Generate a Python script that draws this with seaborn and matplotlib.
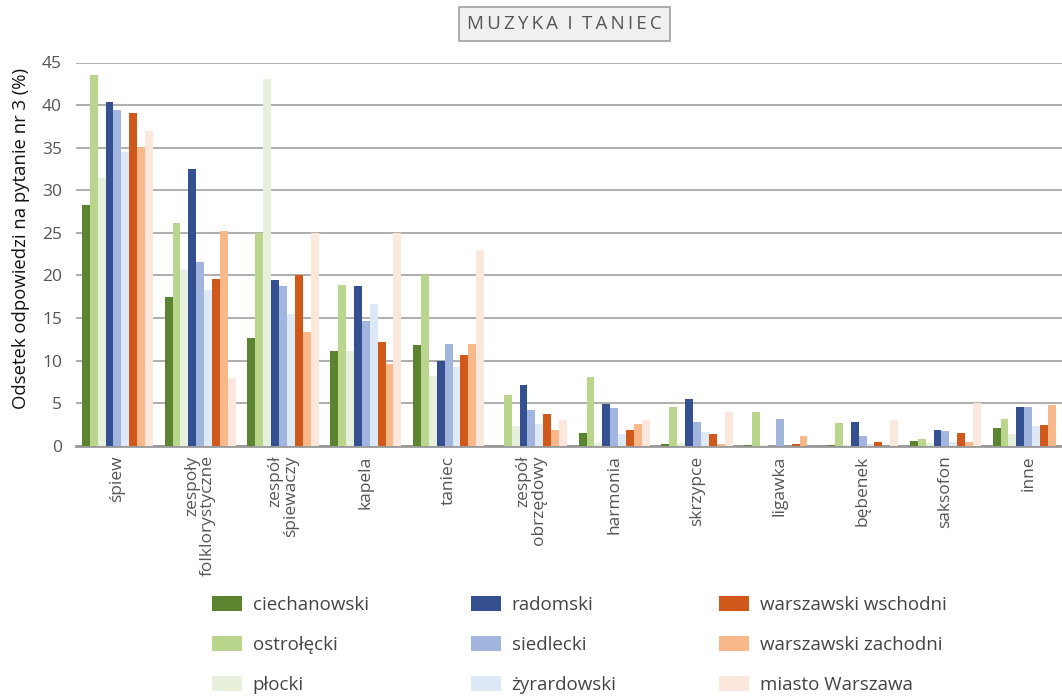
import seaborn as sns
import pandas as pd
import matplotlib.pyplot as plt

# categories (x axis)
categories = ["śpiew", "zespoły\nfolklorystyczne", "zespół\nśpiewaczy", "kapela", "taniec",
              "zespół\nobrzędowy", "harmonia", "skrzypce", "ligawka", "bębenek", "saksofon", "inne"]

# values per district (%)
ciechanowski = [28.3, 17.5, 12.7, 11.1, 11.8, 0.0, 1.5, 0.2, 0.1, 0.1, 0.55, 2.1]
ostroleski = [43.5, 26.2, 25.0, 18.9, 20.0, 5.9, 8.1, 4.5, 3.9, 2.7, 0.8, 3.1]
plocki = [31.4, 20.6, 43.1, 11.1, 8.2, 2.3, 0.35, 0.3, 0.1, 0.1, 0.3, 1.4]
radomski = [40.4, 32.5, 19.4, 18.7, 10.0, 7.1, 4.9, 5.5, 0.0, 2.8, 1.85, 4.55]
siedlecki = [39.4, 21.6, 18.8, 14.6, 12.0, 4.2, 4.4, 2.8, 3.1, 1.15, 1.75, 4.5]
zyrardowski = [34.5, 18.3, 15.5, 16.6, 9.3, 2.5, 1.4, 1.6, 0.0, 0.2, 0.4, 2.3]
warszawski_wsch = [39.1, 19.6, 20.1, 12.2, 10.7, 3.7, 1.8, 1.4, 0.2, 0.45, 1.45, 2.4]
warszawski_zach = [35.1, 25.2, 13.4, 9.6, 11.9, 1.9, 2.5, 0.2, 1.1, 0.0, 0.4, 4.8]
miasto_warszawa = [37.0, 8.0, 25.0, 25.0, 23.0, 3.0, 3.0, 3.9, 0.0, 3.0, 5.0, 0.0]

districts = ["ciechanowski", "ostrołęcki", "płocki", "radomski", "siedlecki", "żyrardowski",
             "warszawski wschodni", "warszawski zachodni", "miasto Warszawa"]
colors = ["#5b8431", "#bad68c", "#e7f0dd", "#345091", "#a2b5de", "#dee9f7",
          "#d0581b", "#f8b88a", "#fce7dc"]

series = [ciechanowski, ostroleski, plocki, radomski, siedlecki, zyrardowski,
          warszawski_wsch, warszawski_zach, miasto_warszawa]
rows = []
for name, vals in zip(districts, series):
    for cat, v in zip(categories, vals):
        rows.append({"kategoria": cat, "powiat": name, "wartosc": v})
df = pd.DataFrame(rows)

sns.set_style("white")
plt.rcParams['font.family'] = ['Open Sans', 'DejaVu Sans']

fig = plt.figure(figsize=(10.62, 7.0), dpi=100)
ax = fig.add_axes([76 / 1062, 1 - 445.7 / 700, 993.6 / 1062, 383.2 / 700])

sns.barplot(data=df, x="kategoria", y="wartosc", hue="powiat", order=categories,
            hue_order=districts, palette=colors, saturation=1, width=0.86, errorbar=None,
            linewidth=0, ax=ax, zorder=3)

ax.set_ylim(0, 45)
ax.set_yticks(range(0, 46, 5))
ax.set_xlim(-0.5, 11.5)
ax.grid(axis="y", color="#a8a8a8", linewidth=1.3, zorder=0)
ax.set_axisbelow(True)
for s in ["top", "right", "left"]:
    ax.spines[s].set_visible(False)
ax.spines["bottom"].set_color("#999999")
ax.spines["bottom"].set_linewidth(2)

ax.tick_params(axis="y", length=0, pad=10, labelsize=12.5, labelcolor="#555555")
ax.tick_params(axis="x", length=0, pad=7)
ax.set_xticks(range(len(categories)))
ax.set_xticklabels(categories, rotation=90, ha="center", va="top", multialignment="right",
                   linespacing=1.0, fontsize=12.5, color="#555555")
ax.set_xlabel("")
ax.set_ylabel("Odsetek odpowiedzi na pytanie nr 3 (%)", fontsize=13.3, color="#111111")
ax.yaxis.set_label_coords(-0.046, 0.54)

handles, labels = ax.get_legend_handles_labels()
ax.get_legend().remove()
fig.legend(handles, labels, ncol=3, loc="upper left", bbox_to_anchor=(203 / 1062, 1 - 587 / 700),
           frameon=False, fontsize=13.5, handlelength=1.6, handleheight=0.85,
           handletextpad=0.55, columnspacing=5.48, labelspacing=1.17, borderpad=0,
           labelcolor="#444444")

title = "\u2009".join("MUZYKA I TANIEC").replace("\u2009 \u2009", "\u2009\u2009\u2009")
fig.text(564.5 / 1062, 1 - 24 / 700, title, ha="center", va="center", fontsize=13.5,
         color="#555555",
         bbox=dict(boxstyle="square,pad=0.42", facecolor="#f0f0f0", edgecolor="#a0a0a0",
                   linewidth=1.2))

fig.savefig("out.png", dpi=100)
